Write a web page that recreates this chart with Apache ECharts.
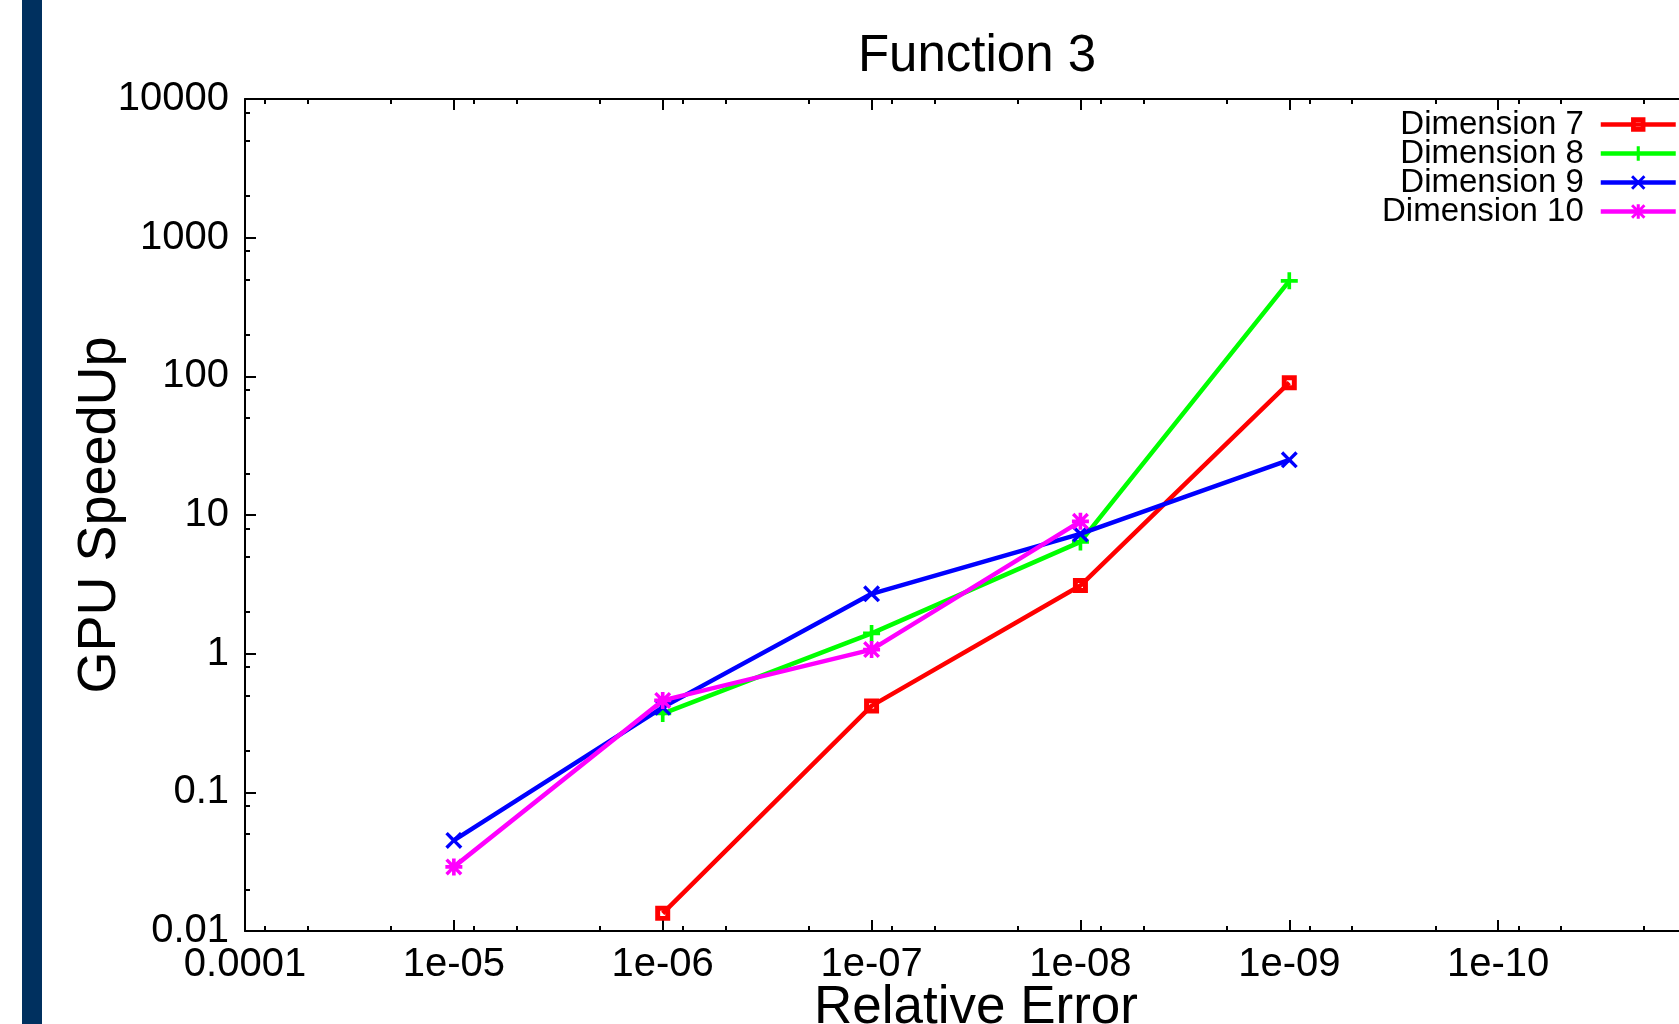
<!DOCTYPE html>
<html><head><meta charset="utf-8">
<script src="https://cdn.jsdelivr.net/npm/echarts@6/dist/echarts.min.js"></script>
<style>
html,body{margin:0;padding:0;overflow:hidden;background:#fff;width:1679px;height:1024px}
#c{position:absolute;left:0;top:0;width:1720px;height:1024px}
</style>
</head><body><div id="c"></div>
<script>
// ---- data ----
const xValues = [1e-5, 1e-6, 1e-7, 1e-8, 1e-9];
const seriesNames = ['Dimension 7', 'Dimension 8', 'Dimension 9', 'Dimension 10'];
const dim7 = [null, 0.0134, 0.42, 3.1, 90];
const dim8 = [null, 0.37, 1.40, 6.4, 488];
const dim9 = [0.045, 0.41, 2.7, 7.3, 25];
const dim10 = [0.029, 0.46, 1.07, 9.0, null];
const xTickValues = [1e-4, 1e-5, 1e-6, 1e-7, 1e-8, 1e-9, 1e-10];
const xTickLabels = ['0.0001', '1e-05', '1e-06', '1e-07', '1e-08', '1e-09', '1e-10'];
const yTickValues = [0.01, 0.1, 1, 10, 100, 1000, 10000];
const yTickLabels = ['0.01', '0.1', '1', '10', '100', '1000', '10000'];
const minorMultipliers = [2, 5, 8];
const titleText = 'Function 3';
const xName = 'Relative Error';
const yName = 'GPU SpeedUp';

// ---- styling ----
const FONT = 'Liberation Sans';
const colors = ['#ff0000', '#00ff00', '#0000ff', '#ff00ff'];
const symSquare = 'path://M0,0H10V10H0Z M3.3,3.3V6.7H6.7V3.3Z';
const symPlus = 'path://M-1.5,-7H1.5V-1.5H7V1.5H1.5V7H-1.5V1.5H-7V-1.5H-1.5Z';
const symCross = 'path://M-7,-5L-5,-7L0,-2L5,-7L7,-5L2,0L7,5L5,7L0,2L-5,7L-7,5L-2,0Z';
const symStar = 'path://M-1.5,-7H1.5V-1.5H7V1.5H1.5V7H-1.5V1.5H-7V-1.5H-1.5Z M-7,-5L-5,-7L0,-2L5,-7L7,-5L2,0L7,5L5,7L0,2L-5,7L-7,5L-2,0Z';

function decadesMinor(eFrom, eTo) {
  const out = [];
  for (let e = eFrom; e <= eTo; e++) for (const m of minorMultipliers) out.push(m * Math.pow(10, e));
  return out;
}
const xMinor = decadesMinor(-11, -5);
const yMinor = decadesMinor(-2, 3);

function labelFor(values, labels) {
  return function (v) {
    const e = Math.round(Math.log10(v));
    const i = values.findIndex(t => Math.round(Math.log10(t)) === e);
    return i >= 0 ? labels[i] : '';
  };
}

const XMIN = 1e-11, XMAX = 1e-4, YMIN = 0.01, YMAX = 10000;
const lineSt = { show: true, lineStyle: { color: '#000', width: 2 } };

function xAxis(position, minor, main) {
  return {
    type: 'log', logBase: 10, inverse: true, min: XMIN, max: XMAX, position: position,
    splitNumber: 7,
    axisLine: main ? lineSt : { show: false },
    axisTick: minor
      ? { show: true, inside: true, length: 5, customValues: xMinor, lineStyle: { color: '#000', width: 2 } }
      : { show: true, inside: true, length: 11, lineStyle: { color: '#000', width: 2 } },
    axisLabel: (main && position === 'bottom') ? {
      show: true, color: '#000', fontFamily: FONT, fontSize: 40, margin: 14,
      formatter: labelFor(xTickValues, xTickLabels)
    } : { show: false },
    splitLine: { show: false }, minorTick: { show: false },
    name: (main && position === 'bottom') ? xName : '',
    nameLocation: 'middle', nameGap: 51, nameMoveOverlap: false,
    nameTextStyle: { color: '#000', fontFamily: FONT, fontSize: 53 }
  };
}
function yAxis(position, minor, main) {
  return {
    type: 'log', logBase: 10, min: YMIN, max: YMAX, position: position, splitNumber: 6,
    axisLine: main ? lineSt : { show: false },
    axisTick: minor
      ? { show: true, inside: true, length: 5, customValues: yMinor, lineStyle: { color: '#000', width: 2 } }
      : { show: true, inside: true, length: 11, lineStyle: { color: '#000', width: 2 } },
    axisLabel: (main && position === 'left') ? {
      show: true, color: '#000', fontFamily: FONT, fontSize: 40, margin: 16,
      formatter: labelFor(yTickValues, yTickLabels)
    } : { show: false },
    splitLine: { show: false }, minorTick: { show: false },
    name: (main && position === 'left') ? yName : '',
    nameLocation: 'middle', nameGap: 118, nameRotate: 90, nameMoveOverlap: false,
    nameTextStyle: { color: '#000', fontFamily: FONT, fontSize: 54 }
  };
}

const dims = [dim7, dim8, dim9, dim10];
const symbols = [symSquare, symPlus, symCross, symStar];
const series = dims.map((vals, k) => ({
  name: seriesNames[k], type: 'line', xAxisIndex: 0, yAxisIndex: 0,
  data: xValues.map((x, i) => vals[i] == null ? null : [x, vals[i]]).filter(d => d),
  symbol: symbols[k],
  symbolSize: k === 0 ? 15 : 17,
  lineStyle: { color: colors[k], width: 4.5 },
  itemStyle: { color: colors[k], borderWidth: 0 },
  z: 3 + k
}));

const chart = echarts.init(document.getElementById('c'), null, { renderer: 'canvas' });
chart.setOption({
  animation: false,
  backgroundColor: '#fff',
  color: colors,
  title: {
    text: titleText, left: 972, top: 26, textAlign: 'center',
    textStyle: { color: '#000', fontFamily: FONT, fontSize: 51, fontWeight: 'normal' }
  },
  legend: {
    orient: 'vertical', right: 37, top: 103, align: 'right',
    itemWidth: 75, itemHeight: 18, itemGap: -4,
    lineStyle: { width: 4.5 },
    textStyle: { color: '#000', fontFamily: FONT, fontSize: 33, padding: [0, 12, 0, 0] },
    data: seriesNames
  },
  grid: { left: 245, right: 13, top: 99, bottom: 93, containLabel: false, outerBoundsMode: 'none' },
  xAxis: [xAxis('bottom', false, true), xAxis('bottom', true, false), xAxis('top', false, true), xAxis('top', true, false)],
  yAxis: [yAxis('left', false, true), yAxis('left', true, false), yAxis('right', false, true), yAxis('right', true, false)],
  graphic: [{ type: 'rect', left: 22, top: 0, shape: { width: 20, height: 1024 }, style: { fill: '#00305f' }, z: 100 }],
  series: series
});
</script>
</body></html>
